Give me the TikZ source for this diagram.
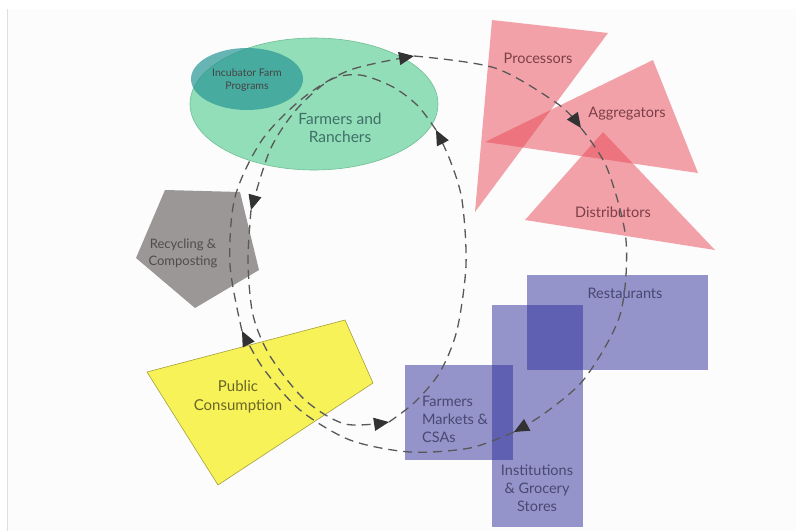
\documentclass[tikz,border=0pt]{standalone}
\usepackage{fontspec}
\setmainfont{Lato}
\usetikzlibrary{arrows.meta}

\definecolor{farmgreen}{RGB}{146,222,184}
\definecolor{farmedge}{RGB}{110,190,150}
\definecolor{incteal}{RGB}{40,150,150}
\definecolor{farmtext}{RGB}{62,112,104}
\definecolor{pinkfill}{RGB}{233,71,85}
\definecolor{pinktext}{RGB}{125,62,72}
\definecolor{recgray}{RGB}{155,151,150}
\definecolor{rectext}{RGB}{78,76,76}
\definecolor{pubyellow}{RGB}{247,242,88}
\definecolor{pubedge}{RGB}{165,160,60}
\definecolor{pubtext}{RGB}{105,102,40}
\definecolor{purplefill}{RGB}{45,45,155}
\definecolor{purpletext}{RGB}{72,72,112}
\definecolor{flowgray}{RGB}{88,88,88}
\definecolor{tipgray}{RGB}{50,50,50}
\definecolor{pagetone}{RGB}{252,252,252}
\definecolor{pageedge}{RGB}{222,222,222}

\tikzset{
  lbl/.style={inner sep=0pt, align=center},
  flow/.style={draw=flowgray, line width=1.3pt, dash pattern=on 9pt off 6pt},
  flowtip/.style={flow, -{Triangle[length=15pt,width=13pt,fill=tipgray,color=tipgray]}},
  pinkshape/.style={fill=pinkfill, fill opacity=0.5},
  purpleshape/.style={fill=purplefill, fill opacity=0.5},
}

\begin{document}
\begin{tikzpicture}[x=1pt,y=-1pt]
\useasboundingbox (0,0) rectangle (809,531);
\fill[white] (0,0) rectangle (809,531);
\fill[pagetone] (8,9) rectangle (796,531);
\draw[pageedge, line width=1.2pt] (7.5,9) -- (7.5,531);

% farmers and ranchers, with the incubator programs inside
\filldraw[fill=farmgreen, draw=farmedge, line width=0.6pt] (314,104) ellipse [x radius=124, y radius=66];
\fill[incteal, fill opacity=0.7] (247,79) ellipse [x radius=56, y radius=31];

% processors, aggregators, distributors
\fill[pinkshape] (492,20) -- (608,33) -- (475,212) -- cycle;
\fill[pinkshape] (485,142) -- (653,60) -- (698,173) -- cycle;
\fill[pinkshape] (603,132) -- (525,220) -- (715,250) -- cycle;

% recycling and composting
\fill[recgray] (165,190) -- (240,192) -- (259,270) -- (195,308) -- (136,258) -- cycle;

% public consumption
\filldraw[fill=pubyellow, draw=pubedge, line width=0.6pt] (147,372) -- (345,320) -- (373,383) -- (218,485) -- cycle;

% retail outlets
\fill[purpleshape] (527,275) rectangle (708,370);
\fill[purpleshape] (492,305) rectangle (583,527);
\fill[purpleshape] (405,365) rectangle (513,460);

% labels
\node[lbl, text=rectext!90!black, font=\fontsize{10.5}{13}\selectfont] (incubator) at (247,80) {Incubator Farm\\Programs};
\node[lbl, text=farmtext, font=\fontsize{15.5}{18}\selectfont] (farmers) at (340,128) {Farmers and\\Ranchers};
\node[lbl, text=pinktext, font=\fontsize{14.5}{17}\selectfont] (processors) at (538,58) {Processors};
\node[lbl, text=pinktext, font=\fontsize{14.5}{17}\selectfont] (aggregators) at (627,114) {Aggregators};
\node[lbl, text=pinktext, font=\fontsize{14.5}{17}\selectfont] (distributors) at (613,212) {Distributors};
\node[lbl, text=rectext, font=\fontsize{13}{17}\selectfont] (recycling) at (183,253) {Recycling \&\\Composting};
\node[lbl, text=pubtext, font=\fontsize{15}{19}\selectfont] (public) at (238,397) {Public\\Consumption};
\node[lbl, text=purpletext, font=\fontsize{14.5}{17}\selectfont] (restaurants) at (625,293) {Restaurants};
\node[lbl, text=purpletext, font=\fontsize{14.5}{18}\selectfont] (institutions) at (537,488) {Institutions\\\& Grocery\\Stores};
\node[lbl, text=purpletext, font=\fontsize{14.5}{18}\selectfont, align=left, anchor=west] (markets) at (422,419) {Farmers\\Markets \&\\CSAs};

% outer loop: producers to processors to outlets to consumers and back
\coordinate (o1) at (242,331);
\coordinate (o2) at (230,265);
\coordinate (o3) at (235,197);
\coordinate (o4) at (262,140);
\coordinate (o5) at (303,98);
\coordinate (o6) at (350,70);
\coordinate (o7) at (414,56);
\coordinate (o8) at (495,68);
\coordinate (o9) at (558,104);
\coordinate (o10) at (581,128);
\coordinate (o11) at (607,168);
\coordinate (o12) at (626,240);
\coordinate (o13) at (620,315);
\coordinate (o14) at (585,378);
\coordinate (o15) at (545,413);
\coordinate (o16) at (514,432);
\coordinate (o17) at (470,448);
\coordinate (o18) at (410,452);
\coordinate (o19) at (350,440);
\coordinate (o20) at (300,410);
\coordinate (o21) at (263,368);

\draw[flowtip] plot[smooth] coordinates {(o1) (o2) (o3) (o4) (o5) (o6) (o7)};
\draw[flowtip] plot[smooth] coordinates {(o7) (o8) (o9) (o10)};
\draw[flowtip] plot[smooth] coordinates {(o10) (o11) (o12) (o13) (o14) (o15) (o16)};
\draw[flowtip] plot[smooth] coordinates {(o16) (o17) (o18) (o19) (o20) (o21) (o1)};

% inner loop: direct sales and recycling back to the farm
\coordinate (i1) at (389,422);
\coordinate (i2) at (415,402);
\coordinate (i3) at (440,372);
\coordinate (i4) at (457,330);
\coordinate (i5) at (466,265);
\coordinate (i6) at (462,200);
\coordinate (i7) at (450,160);
\coordinate (i8) at (436,130);
\coordinate (i9) at (418,106);
\coordinate (i10) at (393,87);
\coordinate (i11) at (360,75);
\coordinate (i12) at (330,80);
\coordinate (i13) at (296,110);
\coordinate (i14) at (270,150);
\coordinate (i15) at (251,210);
\coordinate (i16) at (248,262);
\coordinate (i17) at (253,315);
\coordinate (i18) at (270,356);
\coordinate (i19) at (305,400);
\coordinate (i20) at (345,424);

\draw[flowtip] plot[smooth] coordinates {(i1) (i2) (i3) (i4) (i5) (i6) (i7) (i8)};
\draw[flowtip] plot[smooth] coordinates {(i8) (i9) (i10) (i11) (i12) (i13) (i14) (i15)};
\draw[flowtip] plot[smooth] coordinates {(i15) (i16) (i17) (i18) (i19) (i20) (i1)};
\end{tikzpicture}
\end{document}
